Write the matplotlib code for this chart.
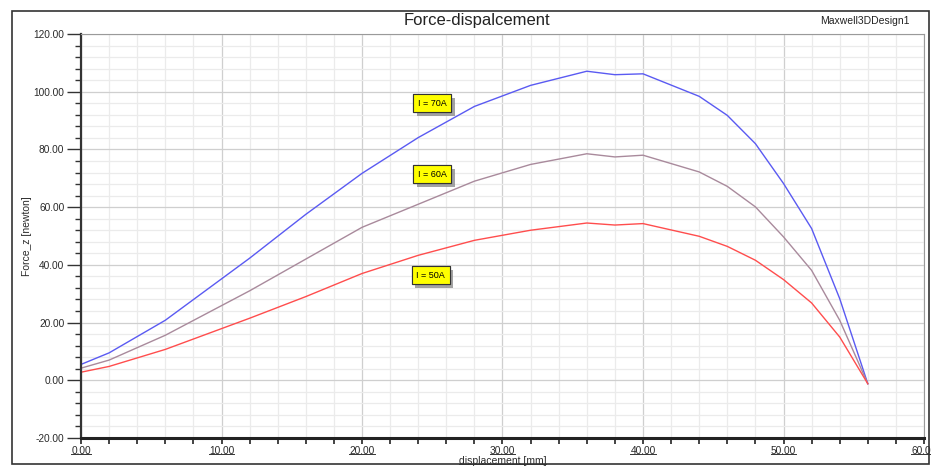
#!/usr/bin/env python3
"""Force vs displacement curves for three coil currents (Maxwell 3D export)."""

import matplotlib
matplotlib.use("Agg")
import matplotlib.pyplot as plt
import matplotlib.patheffects as pe
from matplotlib.lines import Line2D
from matplotlib.patches import Rectangle
from matplotlib.ticker import MultipleLocator

plt.rcParams["font.family"] = ["Liberation Sans", "DejaVu Sans"]

# displacement [mm]
disp = [0, 2, 6, 12, 16, 20, 24, 28, 32, 36, 38, 40, 44, 46, 48, 50, 52, 54, 56]
# Force_z [newton]
force_70 = [5.5, 9.5, 20.8, 42.3, 57.5, 71.7, 84.1, 94.9, 102.2, 107.1, 105.9, 106.2,
            98.4, 91.8, 82.0, 68.2, 52.6, 28.3, -1.2]
force_60 = [4.2, 7.0, 15.6, 31.0, 42.0, 53.0, 61.0, 69.0, 74.8, 78.5, 77.4, 78.0,
            72.2, 67.2, 60.1, 49.7, 38.1, 20.8, -1.2]
force_50 = [2.8, 4.8, 10.7, 21.5, 29.0, 37.0, 43.3, 48.5, 52.0, 54.5, 53.8, 54.3,
            49.9, 46.4, 41.6, 34.9, 26.8, 15.0, -1.2]

labels = ["I = 70A", "I = 60A", "I = 50A"]
label_pos = [(25.0, 96.0), (25.0, 71.4), (24.9, 36.4)]

W, H = 931, 468
fig = plt.figure(figsize=(W / 100, H / 100), dpi=100)
ax = fig.add_axes([81 / W, 1 - 438 / H, (924 - 81) / W, (438 - 34) / H])

ax.plot(disp, force_70, color="#5a5af2", linewidth=1.0)
ax.plot(disp, force_60, color="#a98a9c", linewidth=1.0)
ax.plot(disp, force_50, color="#ff4d4d", linewidth=1.0)

ax.set_xlim(0, 60)
ax.set_ylim(-20, 120)
ax.xaxis.set_major_locator(MultipleLocator(10))
ax.xaxis.set_minor_locator(MultipleLocator(2))
ax.yaxis.set_major_locator(MultipleLocator(20))
ax.yaxis.set_minor_locator(MultipleLocator(4))
ax.xaxis.set_major_formatter(lambda v, p: f"{v:.2f}")
ax.yaxis.set_major_formatter(lambda v, p: f"{v:.2f}")

ax.grid(True, which="major", color="#cfcfcf", linewidth=0.9)
ax.grid(True, which="minor", color="#ebebeb", linewidth=0.9)
ax.set_axisbelow(True)

for side in ("top", "right"):
    ax.spines[side].set_color("#9a9a9a")
    ax.spines[side].set_linewidth(0.8)
ax.spines["left"].set_color("#333333")
ax.spines["left"].set_linewidth(1.6)
ax.spines["bottom"].set_color("#222222")
ax.spines["bottom"].set_linewidth(2.2)

ax.tick_params(axis="y", which="major", length=10, width=1, color="#333333",
               labelsize=7.3, labelcolor="#2a2a2a", pad=2)
ax.tick_params(axis="y", which="minor", length=4, width=1, color="#333333")
ax.tick_params(axis="x", which="major", length=4, width=1.2, color="#222222",
               labelsize=7.3, labelcolor="#2a2a2a", pad=2)
ax.tick_params(axis="x", which="minor", length=4, width=1.2, color="#222222")

ax.set_xlabel("displacement [mm]", fontsize=7.5, color="#2a2a2a", labelpad=0)
ax.set_ylabel("Force_z [newton]", fontsize=7.5, color="#2a2a2a", labelpad=1)

for text, (x, y) in zip(labels, label_pos):
    t = ax.text(x, y, text, fontsize=6.5, ha="center", va="center", zorder=5,
                bbox=dict(boxstyle="square,pad=0.5", facecolor="#ffff00",
                          edgecolor="#333333", linewidth=0.8))
    t.get_bbox_patch().set_path_effects([
        pe.withSimplePatchShadow(offset=(2.5, -2.5), shadow_rgbFace="#8c8c8c", alpha=0.8),
        pe.Normal(),
    ])

fig.text(477 / W, 1 - 20 / H, "Force-dispalcement", fontsize=12, ha="center",
         va="center", color="#222222")
fig.text(910 / W, 1 - 21 / H, "Maxwell3DDesign1", fontsize=7.5, ha="right",
         va="center", color="#222222")

# outer frame
fig.add_artist(Rectangle((12 / W, 1 - 464 / H), (929 - 12) / W, (464 - 11) / H,
                         transform=fig.transFigure, fill=False,
                         edgecolor="#333333", linewidth=1.2))

# underline x tick labels and x label
fig.canvas.draw()
inv = fig.transFigure.inverted()
for t in list(ax.get_xticklabels()) + [ax.xaxis.label]:
    if not t.get_text():
        continue
    bb = t.get_window_extent()
    (x0, y0), (x1, _) = inv.transform([(bb.x0, bb.y0 + 2), (bb.x1, bb.y0)])
    fig.add_artist(Line2D([x0, x1], [y0, y0], transform=fig.transFigure,
                          color="#333333", linewidth=0.7))

fig.savefig("out.png", dpi=100)
